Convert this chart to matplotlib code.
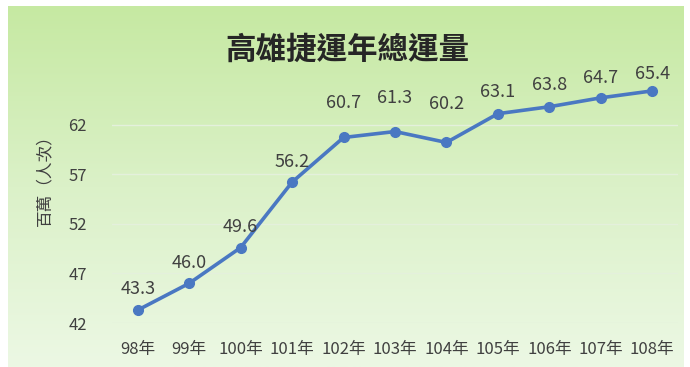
import matplotlib
matplotlib.use("Agg")
import matplotlib.pyplot as plt
import numpy as np
from matplotlib.colors import LinearSegmentedColormap

plt.rcParams['font.family'] = ['Noto Sans CJK TC', 'DejaVu Sans']

# data
years = ["98年", "99年", "100年", "101年", "102年", "103年",
         "104年", "105年", "106年", "107年", "108年"]
ridership = [43.3, 46.0, 49.6, 56.2, 60.7, 61.3, 60.2, 63.1, 63.8, 64.7, 65.4]
yticks = [42, 47, 52, 57, 62]

# label offsets in points (the 102-104 labels sit higher in the original)
label_dy = [9, 8, 8, 8, 18, 18, 21, 9, 9, 8, 6]

fig = plt.figure(figsize=(6.9, 3.67), dpi=100, facecolor="white")

# gradient background panel
bg = fig.add_axes([8 / 690, 0, 676 / 690, 361 / 367])
cmap = LinearSegmentedColormap.from_list("bg", ["#c6e9a2", "#dbf1c8", "#ecf8e4"])
bg.imshow(np.linspace(0, 1, 256).reshape(-1, 1), aspect="auto", cmap=cmap,
          extent=[0, 1, 0, 1])
bg.set_axis_off()

ax = fig.add_axes([112 / 690, 44 / 367, 566 / 690, 248 / 367])
ax.patch.set_alpha(0)
x = np.arange(len(years))
ax.plot(x, ridership, color="#4a78c2", lw=2.6, marker="o", ms=7,
        markerfacecolor="#4a78c2", markeredgecolor="#4a78c2", zorder=3)

for xi, v, dy in zip(x, ridership, label_dy):
    ax.annotate(f"{v:.1f}", (xi, v), xytext=(0, dy), textcoords="offset points",
                ha="center", va="bottom", fontsize=13, color="#404040")

ax.set_xlim(-0.5, len(years) - 0.5)
ax.set_ylim(42, 67)
ax.set_yticks(yticks)
ax.set_xticks(x)
ax.set_xticklabels(years)
ax.tick_params(axis="y", length=0, pad=18, labelsize=12, labelcolor="#404040")
ax.tick_params(axis="x", length=0, pad=13, labelsize=12, labelcolor="#404040")
for t in yticks:
    ax.axhline(t, color="#e4f0dc", lw=1, zorder=1)
for s in ax.spines.values():
    s.set_visible(False)

fig.text(0.503, 0.864, "高雄捷運年總運量", ha="center", va="center",
         fontsize=22, fontweight="bold", color="#262626")
fig.text(0.065, 0.52, "百萬（人次）", ha="center", va="center", rotation=90,
         fontsize=12, color="#404040")

plt.savefig("out.png", dpi=100)
